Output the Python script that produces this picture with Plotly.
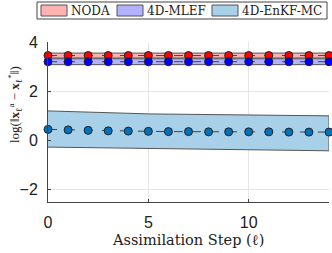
import plotly.graph_objects as go

steps = list(range(15))
noda_mean = [3.45]*15
noda_lo = [3.35]*15
noda_hi = [3.55]*15
mlef_mean = [3.2]*15
mlef_lo = [3.08]*15
mlef_hi = [3.32]*15
enkf_mean = [0.45, 0.43, 0.41, 0.39, 0.38, 0.37, 0.36, 0.36, 0.35, 0.35, 0.35, 0.35, 0.34, 0.34, 0.34]
enkf_hi = [1.2, 1.17, 1.14, 1.12, 1.1, 1.08, 1.07, 1.06, 1.05, 1.04, 1.03, 1.02, 1.01, 1.0, 1.0]
enkf_lo = [-0.27, -0.29, -0.31, -0.32, -0.33, -0.35, -0.36, -0.37, -0.38, -0.39, -0.4, -0.4, -0.41, -0.41, -0.42]
names = ["NODA", "4D-MLEF", "4D-EnKF-MC"]
fills = ["rgb(255,178,178)", "rgb(178,178,255)", "rgb(168,208,232)"]
mcolors = ["#ff0000", "#0000ff", "#0072BD"]
xlabel = "Assimilation Step (ℓ)"
ylabel = "log(‖<b>x</b><sub>ℓ</sub><sup>a</sup> − <b>x</b><sub>ℓ</sub><sup>*</sup>‖)"

W, H = 332, 253
L, R, T, B = 48, 329, 42, 202

def px(x):
    return (x - L) / (R - L)

def py(y):
    return (B - y) / (B - T)

fig = go.Figure()
for lo, hi, fc in zip([noda_lo, mlef_lo, enkf_lo], [noda_hi, mlef_hi, enkf_hi], fills):
    fig.add_trace(go.Scatter(
        x=steps + steps[::-1], y=hi + lo[::-1], fill="toself", fillcolor=fc,
        line=dict(color="#555555", width=1), mode="lines", showlegend=False,
        hoverinfo="skip"))
for m, mc in zip([noda_mean, mlef_mean, enkf_mean], mcolors):
    fig.add_trace(go.Scatter(
        x=steps, y=m, mode="lines+markers", showlegend=False, cliponaxis=False,
        line=dict(color="#444444", width=1, dash="dash"),
        marker=dict(size=8, color=mc, line=dict(color="#222222", width=1))))

shapes = [dict(type="rect", xref="paper", yref="paper", x0=px(37), x1=px(327), y0=py(19), y1=py(2),
               line=dict(color="#444444", width=1), fillcolor="white", opacity=1)]
annotations = []
patch_x = [41, 117, 212]
for name, fc, x0 in zip(names, fills, patch_x):
    shapes.append(dict(type="rect", xref="paper", yref="paper", x0=px(x0), x1=px(x0 + 26),
                       y0=py(16), y1=py(5), line=dict(color="#555555", width=1), fillcolor=fc,
                       opacity=1))
    annotations.append(dict(text=name, xref="paper", yref="paper", x=px(x0 + 28), y=py(10.5),
                            xanchor="left", yanchor="middle", showarrow=False,
                            font=dict(family="DejaVu Serif", size=12, color="#222")))
annotations.append(dict(text=xlabel, xref="paper", yref="paper", x=px(188), y=py(240),
                        xanchor="center", yanchor="middle", showarrow=False,
                        font=dict(family="DejaVu Serif", size=14.5, color="#222")))
annotations.append(dict(text=ylabel, xref="paper", yref="paper", x=px(15), y=py(105),
                        xanchor="center", yanchor="middle", showarrow=False, textangle=-90,
                        font=dict(family="Liberation Serif", size=13, color="#222")))

fig.update_layout(
    width=W, height=H, template="simple_white",
    margin=dict(l=L, r=W - R, t=T, b=H - B, autoexpand=False),
    paper_bgcolor="white", plot_bgcolor="white",
    showlegend=False, shapes=shapes, annotations=annotations,
)
fig.update_xaxes(range=[0, 14], tickvals=[0, 5, 10], showgrid=True, gridcolor="#e6e6e6",
                 ticks="inside", ticklen=3, linecolor="#444444", mirror=False, automargin=False,
                 ticklabelstandoff=6,
                 tickfont=dict(family="Liberation Sans", size=16, color="#222"))
fig.update_yaxes(range=[-2.5, 4], tickvals=[-2, 0, 2, 4], showgrid=True, gridcolor="#e6e6e6",
                 ticks="inside", ticklen=3, linecolor="#444444", zeroline=False, automargin=False,
                 ticklabelstandoff=6,
                 tickfont=dict(family="Liberation Sans", size=16, color="#222"))
fig.write_html("out.html", config={"displayModeBar": False},
               post_script="document.body.style.margin='0';")
